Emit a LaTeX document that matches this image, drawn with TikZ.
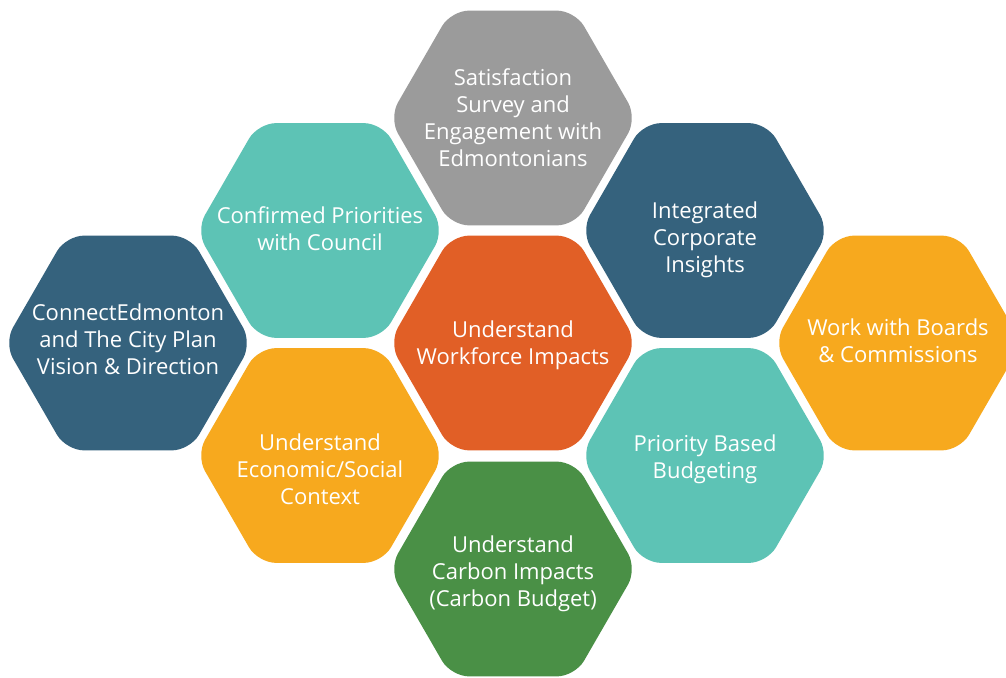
\documentclass[tikz,border=0pt]{standalone}
\usepackage{fontspec}
\setmainfont{Open Sans}
\usetikzlibrary{shapes.geometric}
\definecolor{hgray}{RGB}{155,155,155}
\definecolor{hteal}{RGB}{93,195,181}
\definecolor{hblue}{RGB}{53,98,125}
\definecolor{horange}{RGB}{225,95,38}
\definecolor{hyellow}{RGB}{247,169,30}
\definecolor{hgreen}{RGB}{74,144,70}
\tikzset{
  hexbox/.style={regular polygon, regular polygon sides=6, minimum size=248pt,
    inner sep=0pt, outer sep=0pt, rounded corners=18pt, fill=#1, draw=none},
  hextext/.style={text=white, align=center, inner sep=0pt,
    font=\fontsize{22}{27}\selectfont}
}
\begin{document}
\begin{tikzpicture}[x=1pt,y=-1pt]
\clip (0,0) rectangle (1006,677);
\fill[white] (0,0) rectangle (1006,677);
\node[hexbox=hgray]   (sat)   at (513,118)   {};
\node[hexbox=hteal]   (conf)  at (320,230.5) {};
\node[hexbox=hblue]   (integ) at (705,230.5) {};
\node[hexbox=hblue]   (conn)  at (128,343)   {};
\node[hexbox=horange] (work)  at (513,343)   {};
\node[hexbox=hyellow] (boards) at (898,343)  {};
\node[hexbox=hyellow] (econ)  at (320,455.5) {};
\node[hexbox=hteal]   (pbb)   at (705,455.5) {};
\node[hexbox=hgreen]  (carb)  at (513,569)   {};
\node[hextext] (satT)   at (sat.center)   {Satisfaction\\Survey and\\Engagement with\\Edmontonians};
\node[hextext, yshift=2pt] (confT)  at (conf.center)  {Confirmed Priorities\\with Council};
\node[hextext, yshift=-9pt] (integT) at (integ.center) {Integrated\\Corporate\\Insights};
\node[hextext, yshift=3.5pt] (connT)  at (conn.center)  {ConnectEdmonton\\and The City Plan\\Vision \& Direction};
\node[hextext, yshift=-2pt] (workT)  at (work.center)  {Understand\\Workforce Impacts};
\node[hextext, yshift=2.5pt] (boardsT) at (boards.center) {Work with Boards\\\& Commissions};
\node[hextext, yshift=-14pt] (econT)  at (econ.center)  {Understand\\Economic/Social\\Context};
\node[hextext, yshift=-3.5pt] (pbbT)   at (pbb.center)   {Priority Based\\Budgeting};
\node[hextext, yshift=-5pt] (carbT)  at (carb.center)  {Understand\\Carbon Impacts\\(Carbon Budget)};
\end{tikzpicture}
\end{document}
